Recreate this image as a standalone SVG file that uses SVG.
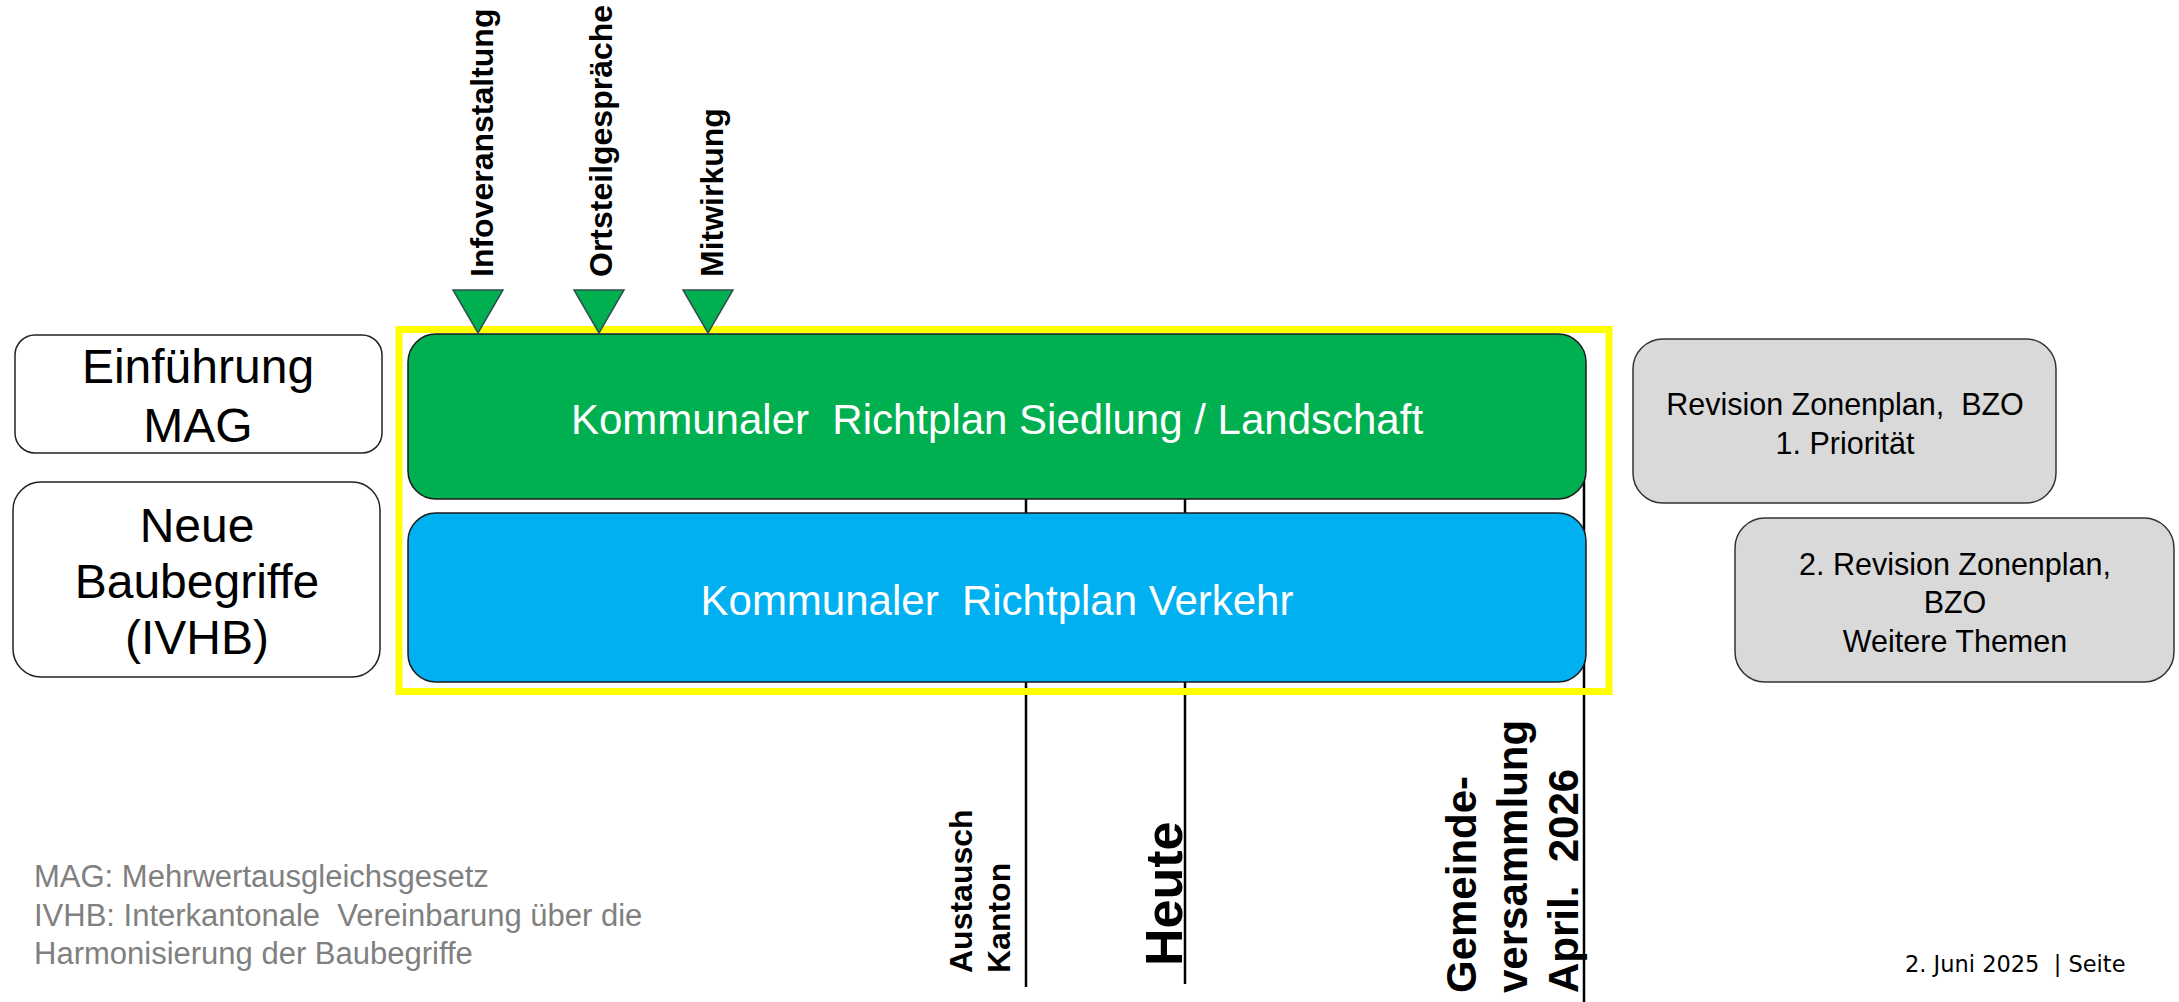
<svg xmlns="http://www.w3.org/2000/svg" width="2179" height="1002" viewBox="0 0 2179 1002">
<style>
text{font-family:"Liberation Sans",Arial,sans-serif;white-space:pre}
.vb{font-weight:bold;font-size:32px;fill:#000}
.lb{font-size:48px;fill:#000;text-anchor:middle}
.wt{font-size:42px;fill:#fff;text-anchor:middle}
.gt{font-size:30.5px;fill:#000;text-anchor:middle}
.fn{font-size:31px;fill:#808080}
.tri{fill:#00B050;stroke:#2F4F4F;stroke-width:1.5}
.ln{stroke:#000;stroke-width:2.5;fill:none}
</style>
<rect width="2179" height="1002" fill="#fff"/>
<g id="connectors">
<line class="ln" x1="1026" y1="400" x2="1026" y2="987"/>
<line class="ln" x1="1185" y1="400" x2="1185" y2="984"/>
<line class="ln" x1="1584" y1="470" x2="1584" y2="1002"/>
</g>
<g id="frame"><rect x="399" y="329.5" width="1210" height="362" fill="none" stroke="#FFFF00" stroke-width="7"/></g>
<g id="siedlung">
<rect x="408" y="334" width="1178" height="165" rx="28" ry="28" fill="#00B050" stroke="#1a1a1a" stroke-width="1.5"/>
<text class="wt" x="997" y="434">Kommunaler  Richtplan Siedlung / Landschaft</text>
</g>
<g id="verkehr">
<rect x="408" y="513" width="1178" height="169" rx="28" ry="28" fill="#00B0F0" stroke="#1a1a1a" stroke-width="1.5"/>
<text class="wt" x="997" y="615">Kommunaler  Richtplan Verkehr</text>
</g>
<g id="infoveranstaltung">
<polygon class="tri" points="453,290 503,290 478,333"/>
<text class="vb" transform="translate(493,277) rotate(-90)">Infoveranstaltung</text>
</g>
<g id="ortsteilgespraeche">
<polygon class="tri" points="574,290 624,290 599,333"/>
<text class="vb" transform="translate(612,277) rotate(-90)">Ortsteilgespräche</text>
</g>
<g id="mitwirkung">
<polygon class="tri" points="683,290 733,290 708,333"/>
<text class="vb" transform="translate(723,277) rotate(-90)">Mitwirkung</text>
</g>
<g id="mag">
<rect x="15" y="335" width="367" height="118" rx="20" ry="20" fill="#fff" stroke="#222" stroke-width="1.5"/>
<text class="lb" x="198" y="383">Einführung</text>
<text class="lb" x="198" y="442">MAG</text>
</g>
<g id="ivhb">
<rect x="13" y="482" width="367" height="195" rx="28" ry="28" fill="#fff" stroke="#222" stroke-width="1.5"/>
<text class="lb" x="197" y="542">Neue</text>
<text class="lb" x="197" y="598">Baubegriffe</text>
<text class="lb" x="197" y="654">(IVHB)</text>
</g>
<g id="revision1">
<rect x="1633" y="339" width="423" height="164" rx="30" ry="30" fill="#D9D9D9" stroke="#333" stroke-width="1.5"/>
<text class="gt" x="1845" y="415">Revision Zonenplan,  BZO</text>
<text class="gt" x="1845" y="454">1. Priorität</text>
</g>
<g id="revision2">
<rect x="1735" y="518" width="439" height="164" rx="30" ry="30" fill="#D9D9D9" stroke="#333" stroke-width="1.5"/>
<text class="gt" x="1955" y="575">2. Revision Zonenplan,</text>
<text class="gt" x="1955" y="613">BZO</text>
<text class="gt" x="1955" y="652">Weitere Themen</text>
</g>
<g id="austausch">
<text class="vb" transform="translate(972,973) rotate(-90)">Austausch</text>
<text class="vb" transform="translate(1010,973) rotate(-90)">Kanton</text>
</g>
<g id="heute">
<text class="vb" style="font-size:52px" transform="translate(1182,966) rotate(-90)">Heute</text>
</g>
<g id="gemeindeversammlung">
<text class="vb" style="font-size:42px" transform="translate(1476,993) rotate(-90)">Gemeinde-</text>
<text class="vb" style="font-size:42px" transform="translate(1527,993) rotate(-90)">versammlung</text>
<text class="vb" style="font-size:42px" transform="translate(1578,993) rotate(-90)">April.  2026</text>
</g>
<g id="footnote">
<text class="fn" x="34" y="887">MAG: Mehrwertausgleichsgesetz</text>
<text class="fn" x="34" y="926">IVHB: Interkantonale  Vereinbarung über die</text>
<text class="fn" x="34" y="964">Harmonisierung der Baubegriffe</text>
</g>
<g id="footer">
<text x="1905" y="972" style="font-family:'DejaVu Sans',Verdana,sans-serif;font-size:22.5px;fill:#000">2. Juni 2025  | Seite</text>
</g>
</svg>
